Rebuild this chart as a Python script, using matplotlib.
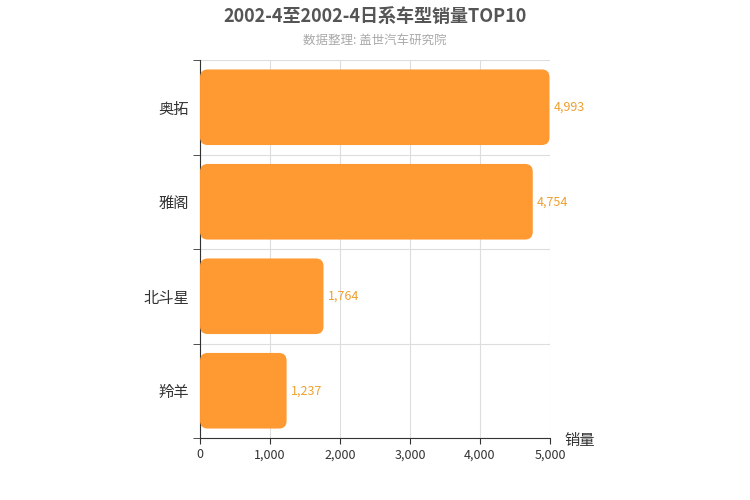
import matplotlib.pyplot as plt
from matplotlib import font_manager
from matplotlib.patches import FancyBboxPatch

# find an installed CJK font
cjk = [f.name for f in font_manager.fontManager.ttflist if 'CJK' in f.name]
plt.rcParams['font.family'] = (cjk[:1] if cjk else []) + ['DejaVu Sans']

models = ['奥拓', '雅阁', '北斗星', '羚羊']
sales = [4993, 4754, 1764, 1237]
xticks = [0, 1000, 2000, 3000, 4000, 5000]
color = '#FF9A33'

fig = plt.figure(figsize=(7.5, 5), dpi=100)
ax = fig.add_axes([0.2667, 0.124, 0.4666, 0.756])
ax.set_xlim(0, 5000)
ax.set_ylim(len(models) - 0.5, -0.5)

# rounded bars
asp = (4 / 378) / (5000 / 350)
for i, v in enumerate(sales):
    ax.add_patch(FancyBboxPatch((0, i - 0.4), v, 0.8,
                                boxstyle='round,pad=0,rounding_size=110',
                                mutation_aspect=asp, fc=color, ec='none', zorder=3))
    ax.text(v + 60, i, f'{v:,}', va='center', ha='left', color='#F0A030', fontsize=9, zorder=4)

ax.set_xticks(xticks)
ax.set_xticklabels([f'{t:,}' for t in xticks], fontsize=9, color='#333333')
ax.set_yticks(range(len(models)))
ax.set_yticklabels(models, fontsize=11, color='#333333')
ax.set_yticks([i - 0.5 for i in range(len(models) + 1)], minor=True)
ax.tick_params(axis='y', which='major', length=0, pad=8)
ax.tick_params(axis='y', which='minor', length=5, color='#333333')
ax.tick_params(axis='x', length=4, color='#333333')
ax.grid(axis='x', color='#dddddd', lw=0.8, zorder=0)
ax.grid(axis='y', which='minor', color='#dddddd', lw=0.8, zorder=0)
for s in ['top', 'right']:
    ax.spines[s].set_visible(False)
ax.spines['left'].set_color('#333333')
ax.spines['bottom'].set_color('#333333')

fig.text(580 / 750, 1 - 440 / 500, '销量', fontsize=11, color='#333333', ha='center', va='center')
fig.text(0.5, 1 - 16 / 500, '2002-4至2002-4日系车型销量TOP10', fontsize=13, fontweight='bold',
         color='#555555', ha='center', va='center')
fig.text(0.5, 1 - 40 / 500, '数据整理: 盖世汽车研究院', fontsize=9, color='#aaaaaa', ha='center', va='center')

fig.savefig('out.png')
